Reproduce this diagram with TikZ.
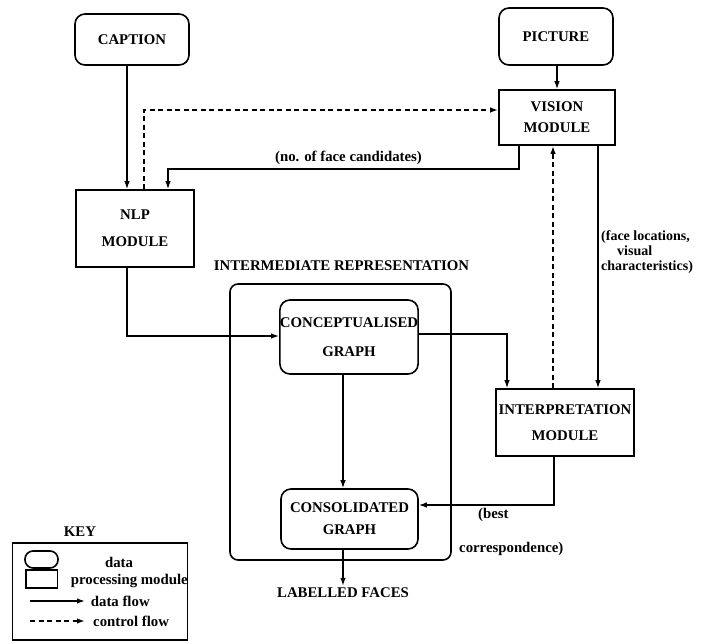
\documentclass[tikz,border=0pt]{standalone}
\usepackage{fontspec}
\setmainfont{Liberation Serif}
\usetikzlibrary{arrows.meta}
\begin{document}
\begin{tikzpicture}[x=1pt,y=-1pt,
  every node/.style={font=\bfseries\fontsize{14.8}{17}\selectfont, inner sep=0pt},
  databox/.style={draw, line width=1.6pt, rounded corners=10pt, align=center},
  modbox/.style={draw, line width=1.6pt, align=center},
  flow/.style={line width=1.4pt, -{Latex[length=8pt,width=5.5pt]}},
  ctrl/.style={line width=1.6pt, dash pattern=on 5pt off 3.5pt, -{Latex[length=8pt,width=5.5pt]}},
  lbl/.style={font=\bfseries\fontsize{14}{15}\selectfont, align=left}]
\useasboundingbox (0,0) rectangle (701,643);
% outer intermediate representation box
\node[draw, line width=1.6pt, rounded corners=8pt, minimum width=221pt, minimum height=276pt] (irbox) at (340.5,422) {};
\node (irlabel) at (341.5,266) {INTERMEDIATE REPRESENTATION};
% data boxes
\node[databox, minimum width=114pt, minimum height=51pt] (caption) at (132,39.5) {CAPTION};
\node[databox, minimum width=114pt, minimum height=57pt] (picture) at (556,36.5) {PICTURE};
\node[databox, minimum width=138pt, minimum height=74pt] (concept) at (349,337) {CONCEPTUALISED\\[12pt]GRAPH};
\node[databox, minimum width=137pt, minimum height=60pt] (consol) at (349.5,519) {CONSOLIDATED\\[5pt]GRAPH};
% modules
\node[modbox, minimum width=116pt, minimum height=55pt] (vision) at (557,117.5) {VISION\\[4pt]MODULE};
\node[modbox, minimum width=118pt, minimum height=77pt] (nlp) at (135,228.5) {NLP\\[10pt]MODULE};
\node[modbox, minimum width=138pt, minimum height=67pt] (interp) at (565,422.5) {INTERPRETATION\\[9pt]MODULE};
\node (lf) at (343,593) {LABELLED FACES};
% connectors
\draw[flow] ([xshift=-5pt]caption.south) -- ([xshift=-5pt]caption.south |- nlp.north);
\draw[flow] (picture.south -| vision.north) -- (vision.north);
\draw[ctrl] ([xshift=9pt]nlp.north) |- ([yshift=7.5pt]vision.west);
\draw[flow] ([xshift=-38pt]vision.south) -- ++(0,23) -| ([xshift=33pt]nlp.north);
\node (nofc) at (348.5,158) {(no. of face candidates)};
\draw[ctrl] ([xshift=-12pt]interp.north) -- ([xshift=-12pt]interp.north |- vision.south);
\draw[flow] ([xshift=41pt]vision.south) -- ([xshift=41pt]vision.south |- interp.north);
\node[lbl, anchor=west] (facel) at (601,252) {(face locations,\\\hspace*{16pt}visual\\characteristics)};
\draw[flow] ([xshift=-8pt]nlp.south) |- ([yshift=1pt]concept.west);
\draw[flow] ([yshift=3pt]concept.east) -| ([xshift=-58pt]interp.north);
\draw[flow] ([xshift=-6pt]concept.south) -- ([xshift=-6pt]concept.south |- consol.north);
\draw[flow] ([xshift=-11pt]interp.south) |- ([yshift=14pt]consol.east);
\node[anchor=west] (best) at (478,515) {(best};
\node[anchor=west] (corr) at (459,549) {correspondence)};
\draw[flow] (consol.south -| lf.north) -- ([yshift=2pt]lf.north);
% key
\node (keylabel) at (80,532) {KEY};
\node[draw, line width=1.4pt, minimum width=175pt, minimum height=97pt] (keybox) at (99.75,591.5) {};
\node[draw, line width=1.6pt, rounded corners=8pt, minimum width=33pt, minimum height=17pt] (keydata) at (41.5,559.5) {};
\node (keydatat) at (119,562) {data};
\node[draw, line width=1.6pt, minimum width=31.6pt, minimum height=18pt] (keymod) at (41.8,579) {};
\node[anchor=west] (keymodt) at (70.7,581) {processing module};
\coordinate (kf1) at (30,601);
\coordinate (kf2) at (85,601);
\draw[flow] (kf1) -- (kf2);
\node[anchor=west] (keyflowt) at (90.7,601) {data flow};
\coordinate (kc1) at (30,621);
\coordinate (kc2) at (85,621);
\draw[ctrl] (kc1) -- (kc2);
\node[anchor=west] (keyctrlt) at (93,621) {control flow};
\end{tikzpicture}
\end{document}
